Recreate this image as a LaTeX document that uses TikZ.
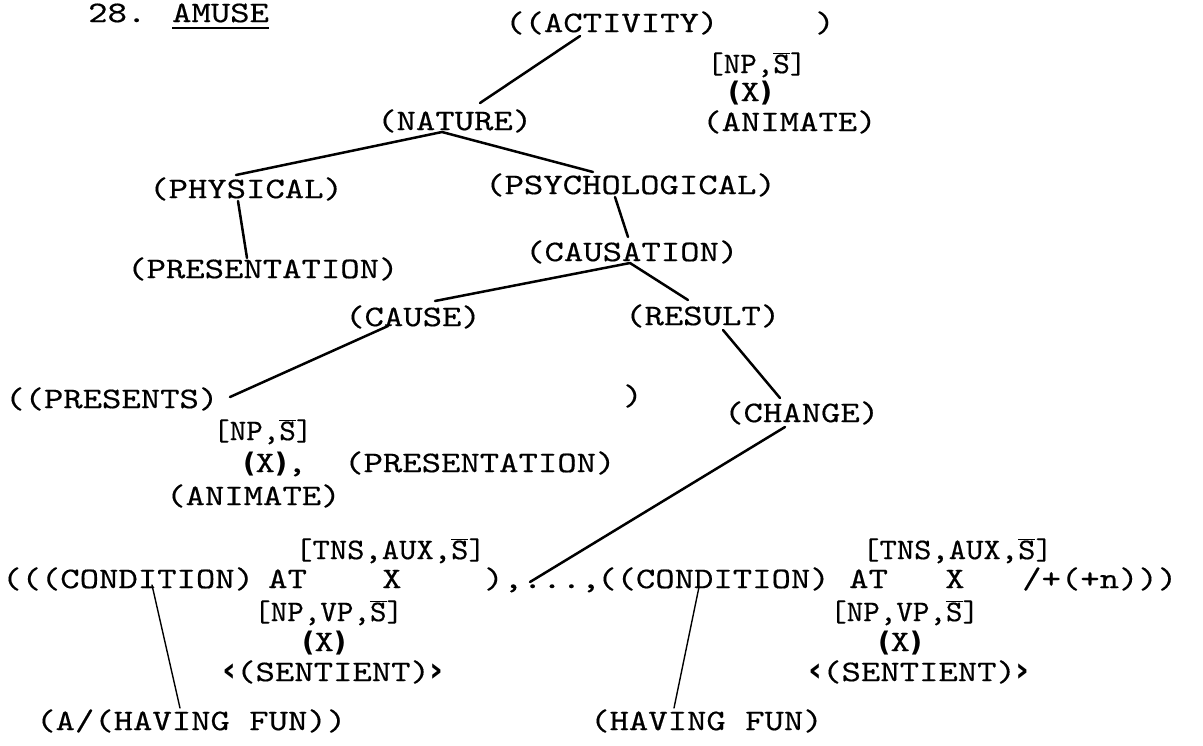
\documentclass[tikz,border=0pt]{standalone}
\usepackage{fontspec}
\newfontfamily\tw{lmmono10-regular.otf}[FakeStretch=1.23,FakeBold=0.4]
\newfontfamily\twn{lmmono10-regular.otf}[FakeStretch=1.05,FakeBold=0.4]
\newfontfamily\twm{lmmono10-regular.otf}[FakeStretch=1.10,FakeBold=0.4]
\newfontfamily\dvs{DejaVu Sans}
% heavy hand-drawn style parentheses and chevrons
\newcommand\hp[1]{{\dvs\bfseries\fontsize{27pt}{30pt}\selectfont#1}}
\newcommand\hang[1]{{\dvs\bfseries\fontsize{34pt}{36pt}\selectfont#1}}
\newcommand\Sbar{$\overline{\hbox{S}}$}
% thick underline
\newsavebox\ulbox
\newcommand\thickul[1]{\sbox\ulbox{#1}\rlap{\rule[-7pt]{\wd\ulbox}{2.2pt}}\usebox\ulbox}
\tikzset{
  lbl/.style={inner sep=0pt, anchor=west, font={\tw\fontsize{30pt}{34pt}\selectfont},
              text height=18.3pt, text depth=0pt},
  nlbl/.style={lbl, font={\twn\fontsize{30pt}{34pt}\selectfont}},
  mlbl/.style={lbl, font={\twm\fontsize{30pt}{34pt}\selectfont}},
  edgeA/.style={line width=2.5pt, line cap=round},
  edgeB/.style={line width=1.4pt, line cap=round}
}
\begin{document}
\begin{tikzpicture}[x=1pt,y=-1pt]
\useasboundingbox (0,0) rectangle (1203,745);
% heading
\node[lbl] (title) at (88,13) {28. \thickul{AMUSE}};
% top of the tree
\node[lbl] (act)  at (505,23) {((ACTIVITY)};
\node[lbl] (actc) at (815,23) {)};
\node[nlbl] (np1) at (707,64) {[NP,\Sbar]};
\node[lbl] (x1)   at (728,92) {\hp{(}X\hp{)}};
\node[lbl] (anim1) at (702,122) {(ANIMATE)};
\node[lbl] (nature) at (377,121) {(NATURE)};
% nature branches
\node[lbl] (phys)  at (149,189) {(PHYSICAL)};
\node[lbl] (psych) at (485,185) {(PSYCHOLOGICAL)};
\node[lbl] (pres1) at (127,269) {(PRESENTATION)};
\node[lbl] (caus)  at (525,252) {(CAUSATION)};
\node[lbl] (cause) at (345,317) {(CAUSE)};
\node[lbl] (result) at (625,316) {(RESULT)};
% presents clause
\node[lbl] (presents) at (5,399) {((PRESENTS)};
\node[lbl] (presc) at (623,396) {)};
\node[lbl] (change) at (724,413) {(CHANGE)};
\node[nlbl] (np2) at (213,431) {[NP,\Sbar]};
\node[lbl] (x2) at (243,463) {\hp{(}X\hp{)},};
\node[lbl] (pres2) at (344,463) {(PRESENTATION)};
\node[lbl] (anim2) at (166,496) {(ANIMATE)};
% condition line, left half
\node[mlbl] (tns1) at (295,550) {[TNS,AUX,\Sbar]};
\node[lbl] (cond1) at (2,579) {(((CONDITION)};
\node[lbl] (at1) at (268,579) {AT};
\node[lbl] (xx1) at (382,579) {X};
\node[lbl] (sep) at (484,579) {),...,};
\node[nlbl] (np3) at (254,612) {[NP,VP,\Sbar]};
\node[lbl] (x3) at (302,642) {\hp{(}X\hp{)}};
\node[lbl] (sent1) at (222,672) {\hang{‹}(SENTIENT)\hang{›}};
% condition line, right half
\node[lbl] (cond2) at (597,579) {((CONDITION)};
\node[lbl] (at2) at (849,579) {AT};
\node[lbl] (xx2) at (945,579) {X};
\node[lbl] (tail) at (1022,579) {/+(+n)))};
\node[mlbl] (tns2) at (862,550) {[TNS,AUX,\Sbar]};
\node[nlbl] (np4) at (830,612) {[NP,VP,\Sbar]};
\node[lbl] (x4) at (878,642) {\hp{(}X\hp{)}};
\node[lbl] (sent2) at (808,672) {\hang{‹}(SENTIENT)\hang{›}};
% leaves
\node[lbl] (fun1) at (36,721) {(A/(HAVING FUN))};
\node[lbl] (fun2) at (590,721) {(HAVING FUN)};
% tree branches
\draw[edgeA] ([shift={(75,13)}]act.west) -- ([shift={(103,-18)}]nature.west);
\draw[edgeA] ([shift={(65,11)}]nature.west) -- ([shift={(87,-14)}]phys.west);
\draw[edgeA] ([shift={(65,11)}]nature.west) -- ([shift={(108,-13)}]psych.west);
\draw[edgeA] ([shift={(89,12)}]phys.west) -- ([shift={(120,-11)}]pres1.west);
\draw[edgeA] ([shift={(130,12)}]psych.west) -- ([shift={(103,-15)}]caus.west);
\draw[edgeA] ([shift={(105,11)}]caus.west) -- ([shift={(90,-16)}]cause.west);
\draw[edgeA] ([shift={(105,11)}]caus.west) -- ([shift={(63,-16)}]result.west);
\draw[edgeA] ([shift={(43,9)}]cause.west) -- ([shift={(225,-2)}]presents.west);
\draw[edgeA] ([shift={(98,14)}]result.west) -- ([shift={(56,-15)}]change.west);
\draw[edgeA] ([shift={(61,14)}]change.west) -- ([shift={(46,3)}]sep.west);
\draw[edgeB] ([shift={(150,6)}]cond1.west) -- ([shift={(144,-13)}]fun1.west);
\draw[edgeB] ([shift={(102,8)}]cond2.west) -- ([shift={(84,-13)}]fun2.west);
\end{tikzpicture}
\end{document}
